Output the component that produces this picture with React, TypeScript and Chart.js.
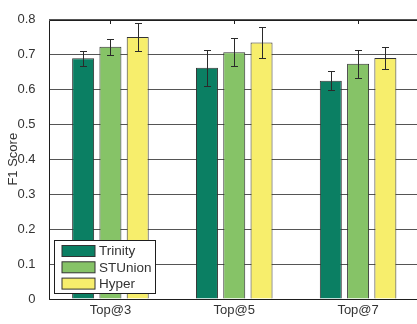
import { useEffect, useRef } from 'react';
import { Chart, registerables } from 'chart.js';

Chart.register(...registerables);

// Ranking cut-offs on the x axis
const categories = ['Top@3', 'Top@5', 'Top@7'];

// Mean F1 score per method and its error half-width
const trinity = [0.689, 0.662, 0.625];
const trinityErr = [0.022, 0.052, 0.027];
const stunion = [0.722, 0.706, 0.673];
const stunionErr = [0.023, 0.04, 0.04];
const hyper = [0.75, 0.734, 0.69];
const hyperErr = [0.039, 0.045, 0.031];

const seriesNames = ['Trinity', 'STUnion', 'Hyper'];
const seriesColors = ['#0b7f63', '#86c367', '#f7ee6c'];

const yTickLabels = ['0', '0.1', '0.2', '0.3', '0.4', '0.5', '0.6', '0.7', '0.8'];

const FONT = '"Liberation Sans", Arial, Helvetica, sans-serif';
const TEXT = '#333333';
const EDGE = '#333333';

// Vertical error bars with short caps, centred on each bar
const errorBars = {
  id: 'errorBars',
  afterDatasetsDraw(chart: any) {
    const { ctx } = chart;
    const y = chart.scales.y;
    ctx.save();
    ctx.strokeStyle = '#2a2a2a';
    ctx.lineWidth = 1;
    chart.data.datasets.forEach((ds: any, i: number) => {
      const meta = chart.getDatasetMeta(i);
      meta.data.forEach((bar: any, j: number) => {
        const v = ds.data[j];
        const e = ds.errors[j];
        const x = Math.round(bar.x) + 0.5;
        const yTop = Math.round(y.getPixelForValue(v + e)) + 0.5;
        const yBot = Math.round(y.getPixelForValue(v - e)) + 0.5;
        ctx.beginPath();
        ctx.moveTo(x, yTop);
        ctx.lineTo(x, yBot);
        ctx.moveTo(x - 3.5, yTop);
        ctx.lineTo(x + 3.5, yTop);
        ctx.moveTo(x - 3.5, yBot);
        ctx.lineTo(x + 3.5, yBot);
        ctx.stroke();
      });
    });
    ctx.restore();
  },
};

// Box outline (left, top, bottom) and the small inward ticks on the top edge
const axesFrame = {
  id: 'axesFrame',
  afterDatasetsDraw(chart: any) {
    const { ctx, chartArea } = chart;
    const { left, top, bottom, right } = chartArea;
    const x = chart.scales.x;
    ctx.save();
    ctx.strokeStyle = '#1e1e1e';
    ctx.lineWidth = 1;
    const l = Math.round(left) + 0.5;
    const t = Math.round(top) + 0.5;
    const b = Math.round(bottom) + 0.5;
    ctx.beginPath();
    ctx.moveTo(l, b);
    ctx.lineTo(l, t);
    ctx.lineTo(right, t);
    ctx.moveTo(l, b);
    ctx.lineTo(right, b);
    categories.forEach((_, i) => {
      const px = Math.round(x.getPixelForValue(i)) + 0.5;
      ctx.moveTo(px, t);
      ctx.lineTo(px, t + 3.5);
    });
    ctx.stroke();
    ctx.restore();
  },
};

// Boxed legend in the lower-left corner of the plot
const boxLegend = {
  id: 'boxLegend',
  afterDraw(chart: any) {
    const { ctx } = chart;
    const bx = 54.5;
    const by = 240.5;
    const bw = 101;
    const bh = 53;
    ctx.save();
    ctx.fillStyle = '#ffffff';
    ctx.fillRect(bx, by, bw, bh);
    ctx.strokeStyle = '#1e1e1e';
    ctx.lineWidth = 1;
    ctx.strokeRect(bx, by, bw, bh);
    ctx.font = `13.5px ${FONT}`;
    ctx.textBaseline = 'middle';
    ctx.textAlign = 'left';
    chart.data.datasets.forEach((ds: any, i: number) => {
      const sy = 245.5 + i * 16.3;
      ctx.fillStyle = ds.backgroundColor;
      ctx.fillRect(62, sy, 33, 11);
      ctx.strokeStyle = EDGE;
      ctx.strokeRect(62, sy, 33, 11);
      ctx.fillStyle = TEXT;
      ctx.fillText(ds.label, 99, sy + 6);
    });
    ctx.restore();
  },
};

export default function App() {
  const canvasRef = useRef<HTMLCanvasElement | null>(null);

  useEffect(() => {
    const canvas = canvasRef.current;
    if (!canvas) return;
    const values = [trinity, stunion, hyper];
    const errs = [trinityErr, stunionErr, hyperErr];
    const chart = new Chart(canvas, {
      type: 'bar',
      data: {
        labels: categories,
        datasets: seriesNames.map((name, i) => ({
          label: name,
          data: values[i],
          errors: errs[i],
          backgroundColor: seriesColors[i],
          borderColor: EDGE,
          borderWidth: 1,
          categoryPercentage: 0.661,
          barPercentage: 0.806,
        })) as any,
      },
      options: {
        responsive: false,
        animation: false,
        devicePixelRatio: 1,
        layout: { padding: { top: 7, right: 0, bottom: 0, left: 0 } },
        plugins: {
          legend: { display: false },
          tooltip: { enabled: false },
        },
        scales: {
          x: {
            grid: { display: false, drawTicks: false },
            border: { display: false },
            ticks: {
              color: TEXT,
              padding: 5,
              font: { family: FONT, size: 13, lineHeight: 1 },
            },
            afterFit(scale: any) {
              scale.height = 25;
            },
          },
          y: {
            min: 0,
            max: 0.8,
            grid: { color: '#555555', lineWidth: 1, drawTicks: false },
            border: { display: false },
            ticks: {
              stepSize: 0.1,
              color: TEXT,
              padding: 13,
              font: { family: FONT, size: 13, lineHeight: 1 },
              callback: (_v: any, index: number) => yTickLabels[index],
            },
            title: {
              display: true,
              text: 'F1 Score',
              color: TEXT,
              padding: { top: 6, bottom: 0 },
              font: { family: FONT, size: 13 },
            },
            afterFit(scale: any) {
              scale.width = 48.5;
            },
          },
        },
      },
      plugins: [axesFrame, errorBars, boxLegend],
    });
    return () => chart.destroy();
  }, []);

  return (
    <div
      style={{
        position: 'fixed',
        left: 0,
        top: 0,
        width: 417,
        height: 324,
        overflow: 'hidden',
        background: '#ffffff',
      }}
    >
      <canvas ref={canvasRef} width={420} height={324} style={{ display: 'block' }} />
    </div>
  );
}
